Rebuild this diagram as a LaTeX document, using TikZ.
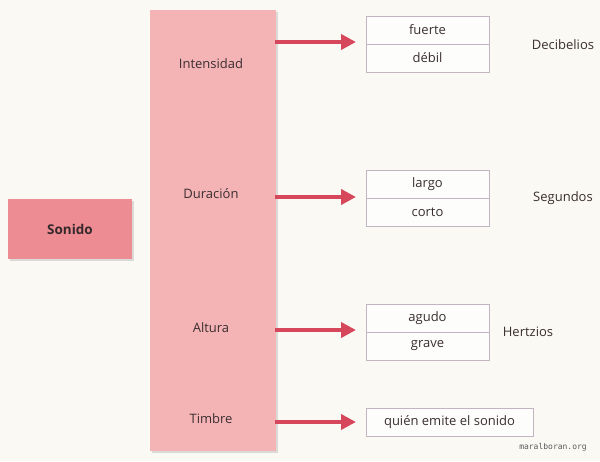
\documentclass[tikz,border=0pt]{standalone}
\usepackage{fontspec}
\setmainfont{Open Sans}
\setmonofont{DejaVu Sans Mono}
\usetikzlibrary{arrows.meta,shadows}
\definecolor{bg}{HTML}{FBF9F4}
\definecolor{colpink}{HTML}{F4B4B6}
\definecolor{sonpink}{HTML}{EE8C93}
\definecolor{arrowred}{HTML}{D6475C}
\definecolor{boxline}{HTML}{C2B4C0}
\definecolor{txt}{HTML}{3A2E30}
\tikzset{
  colbox/.style={draw=none, fill=colpink, drop shadow={shadow xshift=1.5pt, shadow yshift=-1.5pt, opacity=0.25}},
  sonbox/.style={draw=none, fill=sonpink, drop shadow={shadow xshift=1.5pt, shadow yshift=-1.5pt, opacity=0.25}},
  sontext/.style={font=\bfseries\fontsize{13.5}{16}\selectfont, text=txt!90!black},
  lbl/.style={font=\fontsize{13}{15}\selectfont, text=txt},
  valbox/.style={draw=boxline, line width=0.8pt, fill=white!60!bg, drop shadow={shadow xshift=1.2pt, shadow yshift=-1.2pt, opacity=0.2}},
  fatarrow/.style={draw=arrowred, line width=4.5pt, -{Triangle[length=15pt, width=15pt]}},
}
\begin{document}
\begin{tikzpicture}[x=1pt,y=-1pt]
\fill[bg] (0,0) rectangle (600,461);
\useasboundingbox (0,0) rectangle (600,461);
% Sonido
\draw[sonbox] (8,199) rectangle (132,259);
\node[sontext] (sonido) at (70,229) {Sonido};
% column
\draw[colbox] (150,10) rectangle (276,451);
\node[lbl] (int) at (211,64) {Intensidad};
\node[lbl] (dur) at (211,194) {Duración};
\node[lbl] (alt) at (211,328) {Altura};
\node[lbl] (tim) at (211,419) {Timbre};
% arrow anchors
\coordinate (a1s) at (275,42); \coordinate (a1e) at (356,42);
\coordinate (a2s) at (275,197); \coordinate (a2e) at (356,197);
\coordinate (a3s) at (275,330); \coordinate (a3e) at (356,330);
\coordinate (a4s) at (275,422); \coordinate (a4e) at (356,422);
\draw[fatarrow] (a1s) -- (a1e);
\draw[fatarrow] (a2s) -- (a2e);
\draw[fatarrow] (a3s) -- (a3e);
\draw[fatarrow] (a4s) -- (a4e);
% value boxes
\draw[valbox] (366,16) rectangle (489,72);
\draw[boxline, line width=0.8pt] (366,44) -- (489,44);
\node[lbl] (fuerte) at (427.5,30) {fuerte};
\node[lbl] (debil) at (427.5,58) {débil};
\draw[valbox] (366,170) rectangle (489,226);
\draw[boxline, line width=0.8pt] (366,198) -- (489,198);
\node[lbl] (largo) at (427.5,184) {largo};
\node[lbl] (corto) at (427.5,212) {corto};
\draw[valbox] (366,304) rectangle (489,360);
\draw[boxline, line width=0.8pt] (366,332) -- (489,332);
\node[lbl] (agudo) at (427.5,318) {agudo};
\node[lbl] (grave) at (427.5,346) {grave};
\draw[valbox] (366,408) rectangle (533,436);
\node[lbl] (quien) at (449.5,422) {quién emite el sonido};
% units
\node[lbl] (dec) at (563,45) {Decibelios};
\node[lbl] (seg) at (563,198) {Segundos};
\node[lbl] (her) at (528,332) {Hertzios};
% watermark
\node[font=\ttfamily\fontsize{8}{10}\selectfont, text=black!65] (wm) at (553,447) {maralboran.org};
\end{tikzpicture}
\end{document}
